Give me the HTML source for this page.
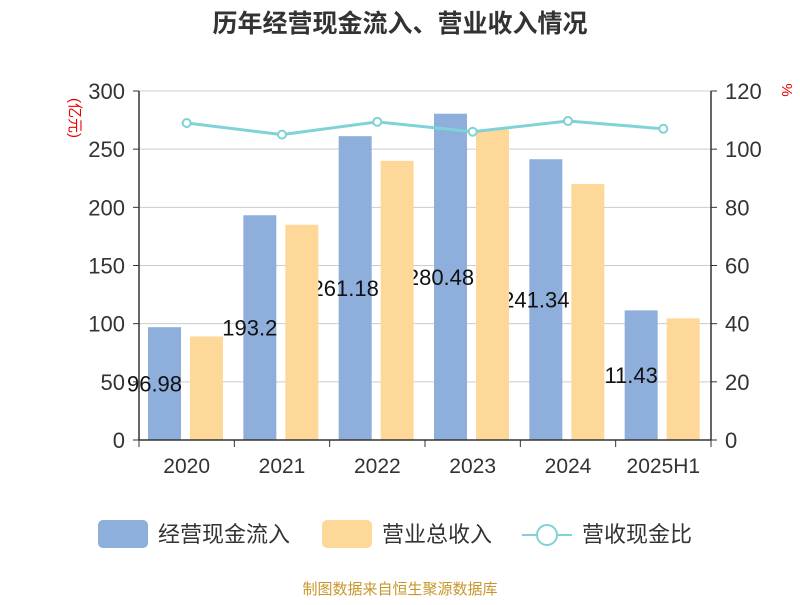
<!DOCTYPE html>
<html><head><meta charset="utf-8"><style>
body{margin:0;background:#fff;font-family:"Liberation Sans","Noto Sans CJK SC",sans-serif;}
svg text{font-family:"Liberation Sans","Noto Sans CJK SC",sans-serif;}
</style></head><body>
<svg id="c" width="800" height="600">
<text x="400" y="32" text-anchor="middle" font-size="25" font-weight="bold" fill="#333">历年经营现金流入、营业收入情况</text>
<text x="70" y="118" font-size="15" fill="#e00" transform="rotate(90 70 118)" text-anchor="middle">(亿元)</text>
<text x="782" y="90" font-size="15" fill="#e00" transform="rotate(90 782 90)" text-anchor="middle">%</text>
<g id="grid"></g><g id="bars"></g><g id="labels"></g><g id="bars2"></g><g id="line"></g><g id="axes"></g>
<g>
<rect x="98" y="520" width="50" height="28" rx="5" fill="#8eaedb"/>
<text x="158" y="542" font-size="22" fill="#333">经营现金流入</text>
<rect x="322" y="520" width="50" height="28" rx="5" fill="#fed898"/>
<text x="382" y="542" font-size="22" fill="#333">营业总收入</text>
<line x1="522" y1="535" x2="572" y2="535" stroke="#7fd3d6" stroke-width="2"/>
<circle cx="547" cy="535" r="10" fill="#fff" stroke="#7fd3d6" stroke-width="2"/>
<text x="582" y="542" font-size="22" fill="#333">营收现金比</text>
</g>
<text x="400" y="594" text-anchor="middle" font-size="15" fill="#c9962a">制图数据来自恒生聚源数据库</text>
</svg>
<script>
const categories=["2020","2021","2022","2023","2024","2025H1"];
const inflow=[96.98,193.2,261.18,280.48,241.34,111.43];
const inflowLabels=["96.98","193.2","261.18","280.48","241.34","11.43"];
const revenue=[89,185,240,267,220,104.6];
const ratio=[109,105,109.4,106,109.7,107];
const leftTicks=[0,50,100,150,200,250,300];
const rightTicks=[0,20,40,60,80,100,120];
const NS="http://www.w3.org/2000/svg";
const L=139,R=711,T=91,B=440;
const yL=v=>B-(v/300)*(B-T), yR=v=>B-(v/120)*(B-T);
const band=(R-L)/categories.length, xc=i=>L+band*(i+0.5);
function mk(tag,attrs,parent,txt){const e=document.createElementNS(NS,tag);for(const k in attrs)e.setAttribute(k,attrs[k]);if(txt!=null)e.textContent=txt;document.getElementById(parent).appendChild(e);return e;}
leftTicks.forEach((t,i)=>{
  const g=mk('line',{x1:L,x2:R,y1:yL(t),y2:yL(t),stroke:'#ccc','stroke-width':1},'grid');
  
  
  const a=mk('text',{x:L-14,y:yL(t)+8,'text-anchor':'end','font-size':22,fill:'#333'},'axes',t);
  
  
  const tk=mk('line',{x1:L-6,x2:L,y1:yL(t),y2:yL(t),stroke:'#333'},'axes');
  
  
});
rightTicks.forEach(t=>{
  const a=mk('text',{x:R+14,y:yR(t)+8,'font-size':22,fill:'#333'},'axes',t);
  
  
  const tk=mk('line',{x1:R,x2:R+6,y1:yR(t),y2:yR(t),stroke:'#333'},'axes');
  
  
});
[[L,T,L,B],[R,T,R,B],[L,B,R,B]].forEach(p=>{
  const l=mk('line',{x1:p[0],y1:p[1],x2:p[2],y2:p[3],stroke:'#333','stroke-width':1.5},'axes');
  
  
});
for(let i=0;i<=categories.length;i++){
  const tk=mk('line',{x1:L+band*i,x2:L+band*i,y1:B,y2:B+7,stroke:'#333'},'axes');
  
  
}
const bw=33;
categories.forEach((c,i)=>{
  const a=mk('text',{x:xc(i),y:B+33,'text-anchor':'middle','font-size':21,fill:'#333'},'axes',c);
  
  
  const x1=xc(i)-band*0.5+9;
  const b=mk('rect',{x:x1,y:yL(inflow[i]),width:bw,height:B-yL(inflow[i]),fill:'#8eaedb'},'bars');
  
  
  const lb=mk('text',{x:x1+bw/2-10,y:(yL(inflow[i])+B)/2+8,'text-anchor':'middle','font-size':22,fill:'#111'},'labels',inflowLabels[i]);
  
  
  const x2=x1+bw+9;
  const b2=mk('rect',{x:x2,y:yL(revenue[i]),width:bw,height:B-yL(revenue[i]),fill:'#fed898'},'bars2');
  
  
});
const pl=mk('polyline',{points:ratio.map((v,i)=>xc(i)+','+yR(v)).join(' '),fill:'none',stroke:'#7fd3d6','stroke-width':3},'line');


ratio.forEach((v,i)=>{
  const p=mk('circle',{cx:xc(i),cy:yR(v),r:4,fill:'#fff',stroke:'#7fd3d6','stroke-width':2},'line');
  
  
});
</script>
</body></html>
